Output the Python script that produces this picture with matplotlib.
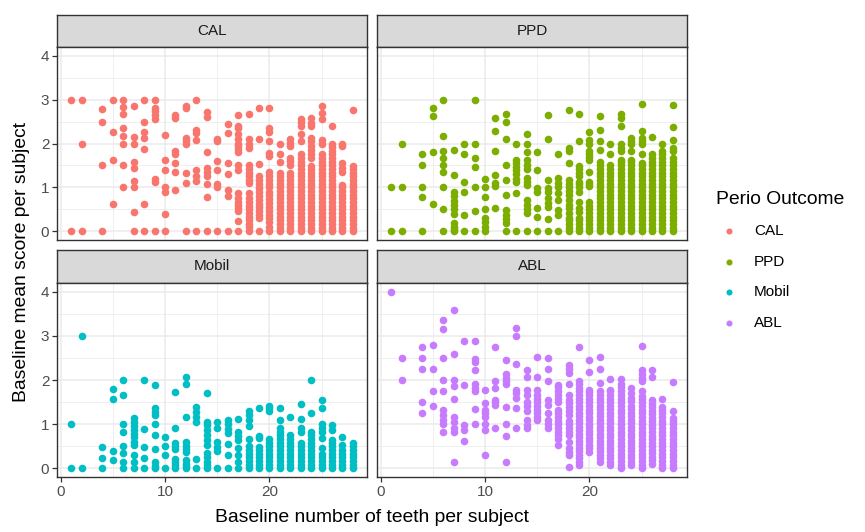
import matplotlib.pyplot as plt

W, H = 865, 532

# baseline number of teeth -> mean scores of the subjects with that many teeth
cal = {
    1: [0, 3.0],
    2: [0, 2.0, 3.0],
    4: [0, 1.5, 2.5, 2.78],
    5: [0.61, 1.62, 2.26, 3.0],
    6: [1.0, 1.5, 2.0, 2.18, 2.36, 2.68, 2.84, 3.0],
    7: [0, 0.43, 1.0, 1.15, 1.44, 1.58, 2.0, 2.15, 2.85],
    8: [0, 0.61, 1.88, 2.13, 2.26, 2.5, 3.0],
    9: [0, 1.12, 1.2, 2.55, 2.65, 2.75, 2.82, 3.0],
    10: [0, 0.39, 0.9, 1.0, 1.4, 1.62, 2.19],
    11: [0.93, 1.36, 1.56, 1.75, 1.82, 2.57, 2.65],
    12: [0, 1.1, 1.33, 2.0, 2.05, 2.12, 2.8, 2.86],
    13: [0, 1.15, 1.26, 1.39, 2.07, 2.25, 2.3, 3.0],
    14: [0, 0.79, 1.07, 1.25, 1.36, 1.44, 1.8, 2.6, 2.72],
    15: [0, 1.0, 1.07, 1.4, 1.6, 2.05, 2.1],
    16: [0, 0.8, 0.95, 1.3, 1.55, 2.25, 2.45],
    17: [0, 0.24, 0.45, 0.52, 0.6, 0.67, 0.75, 0.88, 1.4, 1.5, 1.8, 1.88,
         1.95, 2.0, 2.1, 2.22, 2.36, 2.41, 2.65],
    18: [0, 0.1, 0.17, 0.25, 0.33, 0.42, 0.5, 0.58, 0.67, 0.75, 0.87, 1.1,
         1.17, 1.25, 1.33, 1.42, 1.5, 1.9, 2.0, 2.1, 2.67],
    19: [0, 0.3, 0.38, 0.46, 0.55, 0.63, 0.72, 0.8, 0.9, 0.98, 1.07, 1.16,
         1.25, 1.53, 2.1, 2.8],
    20: [0, 0.1, 0.2, 0.3, 0.37, 0.46, 0.55, 0.64, 0.73, 0.82, 0.9, 1.0,
         1.08, 1.17, 1.25, 1.36, 1.71, 1.79, 2.05, 2.27, 2.36, 2.8],
    21: [0, 0.08, 0.17, 0.25, 0.33, 0.42, 0.5, 0.58, 0.67, 0.75, 0.83, 0.92,
         1.0, 1.08, 1.17, 1.25, 1.33, 1.57, 1.77, 2.0],
    22: [0, 0.08, 0.17, 0.25, 0.33, 0.42, 0.5, 0.58, 0.67, 0.75, 0.83, 0.92,
         1.0, 1.08, 1.17, 1.25, 1.33, 1.5, 1.6, 1.68, 1.95, 2.02, 2.1],
    23: [0, 0.08, 0.17, 0.25, 0.33, 0.42, 0.5, 0.58, 0.67, 0.75, 0.83, 0.92,
         1.0, 1.08, 1.17, 1.25, 1.33, 1.42, 1.5, 1.58, 1.67, 1.75, 2.05,
         2.22, 2.4, 2.48, 2.55],
    24: [0, 0.08, 0.17, 0.25, 0.33, 0.42, 0.5, 0.58, 0.67, 0.75, 0.83, 0.92,
         1.0, 1.08, 1.17, 1.25, 1.33, 1.42, 1.48, 1.67, 1.75, 1.85, 1.95,
         2.05, 2.13, 2.4, 2.46, 2.59],
    25: [0, 0.08, 0.17, 0.25, 0.33, 0.42, 0.5, 0.58, 0.67, 0.75, 0.83, 0.92,
         1.0, 1.08, 1.17, 1.25, 1.33, 1.42, 1.5, 1.58, 1.67, 1.75, 2.0,
         2.07, 2.55, 2.7, 2.85],
    26: [0, 0.08, 0.17, 0.25, 0.33, 0.42, 0.5, 0.58, 0.67, 0.75, 0.83, 0.92,
         1.0, 1.08, 1.17, 1.25, 1.33, 1.42, 1.5, 1.58, 1.67, 1.75, 1.83,
         1.92, 2.0, 2.4],
    27: [0, 0.08, 0.17, 0.25, 0.33, 0.42, 0.5, 0.58, 0.67, 0.75, 0.83, 0.92,
         1.0, 1.05, 1.36, 1.45, 1.55, 1.94, 2.0],
    28: [0, 0.08, 0.17, 0.25, 0.33, 0.42, 0.5, 0.58, 0.67, 0.75, 0.83, 0.92,
         1.0, 1.08, 1.17, 1.25, 1.33, 1.42, 1.48, 2.77],
}

ppd = {
    1: [0, 1.0],
    2: [0, 1.0, 2.0],
    4: [0, 0.77, 1.0, 1.5, 1.77],
    5: [0.61, 1.8, 2.63, 2.82],
    6: [0, 0.5, 1.0, 1.34, 1.5, 1.67, 1.82, 2.17, 3.0],
    7: [0, 0.05, 0.1, 0.18, 0.4, 0.5, 0.6, 0.7, 0.8, 0.9, 1.29, 1.86],
    8: [0, 0.37, 0.89, 1.13, 1.76, 2.0],
    9: [0, 0.47, 1.0, 1.46, 1.67, 2.0, 3.0],
    10: [0, 0.1, 0.2, 0.31, 0.5, 0.79, 1.0, 1.19],
    11: [0.54, 1.02, 1.1, 1.29, 1.82, 2.28, 2.57],
    12: [0, 0.18, 0.29, 0.38, 0.48, 0.83, 1.16, 1.5, 2.1, 2.5, 2.68],
    13: [0, 0.87, 1.13, 1.2, 1.3, 1.4, 1.47, 1.55, 1.63, 2.0],
    14: [0, 0.41, 0.5, 0.6, 0.71, 1.06, 1.13, 1.21, 1.43, 1.5, 1.63, 1.8,
         2.0, 2.22],
    15: [0, 0.33, 0.52, 0.9, 0.98, 1.4, 1.8],
    16: [0, 0.29, 0.56, 0.64, 0.75, 0.9, 0.98, 1.17, 2.1, 2.65],
    17: [0, 0.37, 0.48, 0.71, 0.87, 1.0, 1.1, 1.21, 1.76],
    18: [0, 0.08, 0.17, 0.25, 0.3, 0.41, 0.52, 0.6, 0.71, 0.83, 0.92, 1.0,
         1.08, 1.17, 1.56, 1.82, 1.9, 2.77],
    19: [0, 0.08, 0.17, 0.25, 0.3, 0.44, 0.52, 0.67, 0.9, 1.0, 1.08, 1.13,
         1.25, 1.33, 1.42, 1.48, 2.05, 2.67],
    20: [0, 0.08, 0.17, 0.25, 0.33, 0.42, 0.5, 0.58, 0.67, 1.02, 1.08, 1.13,
         1.35, 1.63, 1.7, 1.75, 1.82, 1.98, 2.09, 2.26],
    21: [0, 0.08, 0.17, 0.25, 0.33, 0.42, 0.5, 0.58, 0.67, 0.75, 0.83, 0.92,
         1.0, 1.08, 1.17, 1.25, 1.33, 1.42, 1.5, 1.58, 1.86, 2.05, 2.3, 2.63],
    22: [0, 0.08, 0.17, 0.25, 0.33, 0.42, 0.5, 0.58, 0.67, 0.75, 0.83, 0.92,
         1.0, 1.08, 1.17, 1.25, 1.33, 1.42, 1.5, 1.75, 2.0],
    23: [0, 0.08, 0.17, 0.25, 0.33, 0.42, 0.5, 0.58, 0.67, 0.75, 0.83, 0.92,
         1.0, 1.08, 1.17, 1.25, 1.33, 1.42, 1.5, 1.58, 1.63, 1.82, 1.9, 1.98,
         2.41, 2.59, 2.67],
    24: [0, 0.08, 0.17, 0.25, 0.33, 0.42, 0.5, 0.58, 0.67, 0.75, 0.83, 0.92,
         1.0, 1.08, 1.17, 1.25, 1.33, 1.42, 1.5, 1.58, 1.63, 1.82, 1.98,
         2.05, 2.13],
    25: [0, 0.08, 0.17, 0.25, 0.33, 0.42, 0.5, 0.58, 0.67, 0.75, 0.83, 0.92,
         1.0, 1.08, 1.17, 1.25, 1.33, 1.42, 1.5, 1.55, 1.75, 1.98, 2.05,
         2.13, 2.28, 2.9],
    26: [0, 0.08, 0.17, 0.25, 0.33, 0.42, 0.5, 0.58, 0.67, 0.75, 0.83, 0.92,
         1.0, 1.08, 1.17, 1.25, 1.33, 1.42, 1.5, 1.58, 1.67, 1.75, 2.15],
    27: [0, 0.08, 0.17, 0.25, 0.33, 0.42, 0.5, 0.58, 0.67, 0.75, 0.83, 0.92,
         1.0, 1.08, 1.17, 1.25, 1.33, 1.42, 1.5, 1.58, 1.67, 1.75, 1.83, 2.0],
    28: [0, 0.08, 0.17, 0.25, 0.33, 0.42, 0.5, 0.58, 0.67, 0.75, 0.83, 0.92,
         1.0, 1.08, 1.17, 1.25, 1.33, 1.42, 1.5, 1.58, 1.67, 1.82, 1.9, 2.07,
         2.38, 2.87],
}

mobil = {
    1: [0, 1.0],
    2: [0, 3.0],
    4: [0, 0.24, 0.48],
    5: [0.18, 0.4, 1.58, 1.79],
    6: [0, 0.15, 0.35, 0.5, 0.81, 1.0, 1.66, 2.0],
    7: [0, 0.14, 0.29, 0.52, 0.6, 0.7, 0.78, 0.87, 0.96, 1.05, 1.13],
    8: [0, 0.24, 0.48, 0.88, 2.0],
    9: [0, 0.05, 0.14, 0.43, 0.76, 1.0, 1.2, 1.27, 1.36, 1.88],
    10: [0, 0.3, 0.5, 0.7],
    11: [0, 0.07, 0.14, 0.21, 0.43, 0.5, 0.57, 0.91, 1.73],
    12: [0, 0.05, 0.1, 0.18, 0.37, 0.43, 0.5, 0.59, 1.15, 1.9, 2.06],
    13: [0, 0.2, 1.05, 1.15, 1.28, 1.38],
    14: [0, 0.07, 0.15, 0.25, 0.35, 0.52, 0.65, 0.76, 0.87, 0.97, 1.05, 1.7],
    15: [0, 0.38, 0.49, 0.59, 0.9, 1.05],
    16: [0, 0.3, 0.54, 0.79, 0.89, 1.01, 1.1],
    17: [0, 0.15, 0.3, 0.45, 0.64, 0.73, 0.83, 1.12],
    18: [0, 0.08, 0.17, 0.25, 0.33, 0.42, 0.5, 0.66, 0.95, 1.1, 1.2, 1.3],
    19: [0, 0.08, 0.17, 0.25, 0.33, 0.42, 0.49, 0.68, 0.72, 1.36],
    20: [0, 0.08, 0.17, 0.25, 0.33, 0.42, 0.5, 0.58, 0.67, 1.29, 1.36, 1.42],
    21: [0, 0.08, 0.17, 0.25, 0.33, 0.42, 0.5, 0.58, 0.67, 0.75, 0.83, 0.9,
         1.1, 1.36],
    22: [0, 0.08, 0.17, 0.25, 0.33, 0.42, 0.5, 0.58, 0.67, 0.75, 1.17],
    23: [0, 0.08, 0.17, 0.25, 0.33, 0.42, 0.5, 0.58, 0.83, 0.9, 1.12, 1.46],
    24: [0, 0.08, 0.17, 0.25, 0.33, 0.42, 0.5, 0.58, 0.67, 0.75, 0.83, 1.25,
         2.0],
    25: [0, 0.08, 0.17, 0.25, 0.33, 0.45, 0.68, 0.83, 0.92, 1.0, 1.36, 1.55],
    26: [0, 0.08, 0.17, 0.25, 0.33, 0.42, 0.5, 0.58, 0.64, 0.87, 0.97],
    27: [0, 0.08, 0.17, 0.25, 0.33, 0.42, 0.53, 0.7],
    28: [0, 0.08, 0.17, 0.25, 0.33, 0.42, 0.5, 0.58],
}

abl = {
    1: [4.0],
    2: [2.0, 2.49],
    4: [1.25, 1.49, 2.25, 2.49, 2.74],
    5: [1.4, 1.74, 2.25, 2.79],
    6: [0.83, 1.0, 1.1, 1.2, 1.33, 1.74, 2.0, 2.49, 3.15, 3.35],
    7: [0.13, 0.83, 0.9, 1.04, 1.17, 1.58, 1.86, 2.0, 2.58, 3.58],
    8: [0.62, 0.87, 0.98, 1.88, 2.88],
    9: [1.0, 1.34, 1.74, 1.82, 1.9, 2.22, 2.4, 2.47, 2.88],
    10: [0.31, 0.87, 1.0, 1.17, 1.25, 1.33, 1.48, 1.78],
    11: [0.91, 1.44, 1.5, 1.55, 1.82, 1.97, 2.74],
    12: [0.14, 0.72, 1.0, 1.38, 1.9, 1.97, 2.05, 2.14, 2.46],
    13: [0.91, 1.36, 1.6, 1.7, 1.78, 2.37, 3.0, 3.19],
    14: [0.91, 0.98, 1.1, 1.29, 1.4, 1.5, 1.65, 1.78, 2.06, 2.22],
    15: [1.1, 1.17, 1.25, 1.33, 1.42, 1.5, 1.58, 1.67, 1.78, 2.06, 2.52],
    16: [0.91, 1.0, 1.1, 1.25, 1.44, 1.55, 1.97, 2.25, 2.49],
    17: [0.53, 0.67, 0.75, 0.83, 0.92, 1.0, 1.08, 1.17, 1.25, 1.32, 1.5,
         1.58, 1.67, 1.75, 1.83, 1.89],
    18: [0.02, 0.3, 0.37, 0.45, 0.6, 0.75, 0.83, 0.92, 1.0, 1.06, 1.21, 1.3,
         1.38, 1.47, 1.55, 1.67, 1.9, 2.16, 2.25, 2.35],
    19: [0.07, 0.14, 0.22, 0.3, 0.38, 0.46, 0.54, 0.62, 0.7, 0.78, 0.86,
         0.94, 1.02, 1.1, 1.18, 1.26, 1.34, 1.42, 1.5, 1.58, 1.66, 1.74,
         1.82, 1.9, 1.97, 2.74],
    20: [0.37, 0.45, 0.53, 0.61, 0.69, 0.77, 0.85, 0.93, 1.01, 1.09, 1.17,
         1.25, 1.33, 1.41, 1.49, 1.57, 1.65, 1.72, 1.78, 2.18, 2.45],
    21: [0.14, 0.22, 0.3, 0.38, 0.46, 0.54, 0.62, 0.7, 0.78, 0.86, 0.94,
         1.02, 1.1, 1.18, 1.26, 1.34, 1.42, 1.5, 1.58, 1.66, 1.74, 1.94,
         2.26, 2.52],
    22: [0.07, 0.14, 0.22, 0.3, 0.38, 0.46, 0.54, 0.62, 0.7, 0.78, 0.86,
         0.94, 1.02, 1.1, 1.18, 1.26, 1.34, 1.42, 1.5, 1.58, 1.66, 1.74,
         1.78, 2.03],
    23: [0, 0.08, 0.17, 0.25, 0.33, 0.42, 0.5, 0.58, 0.67, 0.75, 0.83, 0.92,
         1.0, 1.08, 1.17, 1.25, 1.33, 1.42, 1.5, 1.58, 1.67, 1.75, 1.83,
         1.9, 2.03],
    24: [0.07, 0.14, 0.22, 0.3, 0.38, 0.46, 0.54, 0.62, 0.7, 0.78, 0.86,
         0.94, 1.02, 1.1, 1.18, 1.26, 1.34, 1.4, 1.52, 1.6, 1.7, 1.82],
    25: [0, 0.08, 0.17, 0.25, 0.33, 0.42, 0.5, 0.58, 0.67, 0.75, 0.83, 0.92,
         1.0, 1.08, 1.17, 1.25, 1.33, 1.42, 1.5, 1.58, 1.63, 1.74, 1.97,
         2.05, 2.14, 2.22, 2.76],
    26: [0.1, 0.18, 0.26, 0.34, 0.42, 0.5, 0.58, 0.66, 0.74, 0.82, 0.9,
         0.98, 1.06, 1.14, 1.22, 1.3, 1.38, 1.46, 1.55, 2.06, 2.22],
    27: [0, 0.08, 0.17, 0.25, 0.33, 0.42, 0.5, 0.58, 0.67, 0.75, 0.83, 0.92,
         1.0, 1.08, 1.17, 1.25, 1.33, 1.38, 1.58],
    28: [0, 0.08, 0.17, 0.25, 0.33, 0.42, 0.5, 0.58, 0.67, 0.75, 0.83, 0.92,
         1.0, 1.08, 1.14, 1.3, 1.95],
}

outcomes = ["CAL", "PPD", "Mobil", "ABL"]
colors = ["#F8766D", "#7CAE00", "#00BFC4", "#C77CFF"]
panel_data = [cal, ppd, mobil, abl]

plt.rcParams['font.family'] = ['Liberation Sans', 'DejaVu Sans']

fig = plt.figure(figsize=(W / 100, H / 100), dpi=100)


def box(x0, x1, y0, y1):
    # pixel box (top-left origin) -> figure fraction rect
    return [x0 / W, 1 - y1 / H, (x1 - x0) / W, (y1 - y0) / H]


# (left, right, strip top, plot top, plot bottom) in pixels
layout = [(57, 367, 15, 47, 240), (377, 687, 15, 47, 240),
          (57, 367, 250, 283, 477), (377, 687, 250, 283, 477)]

handles = []
for i, (name, col, data) in enumerate(zip(outcomes, colors, panel_data)):
    x0, x1, s0, p0, p1 = layout[i]

    strip = fig.add_axes(box(x0, x1, s0, p0))
    strip.set_facecolor("#D9D9D9")
    strip.set_xticks([])
    strip.set_yticks([])
    for sp in strip.spines.values():
        sp.set_color("#333333")
        sp.set_linewidth(1.0)
    strip.text(0.5, 0.5, name, ha="center", va="center", fontsize=11,
               color="#1A1A1A", transform=strip.transAxes)

    ax = fig.add_axes(box(x0, x1, p0, p1))
    xs = [n for n, vals in data.items() for v in vals]
    ys = [v for n, vals in data.items() for v in vals]
    sc = ax.scatter(xs, ys, s=30, color=col, linewidths=0, label=name,
                    zorder=3)
    handles.append(sc)

    ax.set_xlim(-0.35, 29.35)
    ax.set_ylim(-0.2, 4.2)
    ax.set_xticks([0, 10, 20])
    ax.set_xticks([5, 15, 25], minor=True)
    ax.set_yticks([0, 1, 2, 3, 4])
    ax.set_yticks([0.5, 1.5, 2.5, 3.5], minor=True)
    ax.grid(True, which="major", color="#EBEBEB", linewidth=1.1)
    ax.grid(True, which="minor", color="#EBEBEB", linewidth=0.55)
    ax.set_axisbelow(True)
    for sp in ax.spines.values():
        sp.set_color("#333333")
        sp.set_linewidth(1.0)
    ax.tick_params(which="minor", length=0)
    ax.tick_params(which="major", length=3.5, width=0.9, color="#333333",
                   labelcolor="#4D4D4D", labelsize=11, pad=2)
    if i < 2:
        ax.tick_params(axis="x", which="major", length=0, labelbottom=False)
    if i % 2 == 1:
        ax.tick_params(axis="y", which="major", length=0, labelleft=False)

fig.text(372 / W, 1 - 517 / H, "Baseline number of teeth per subject",
         ha="center", va="center", fontsize=13.9)
fig.text(22 / W, 1 - 262 / H, "Baseline mean score per subject",
         ha="center", va="center", rotation=90, fontsize=13.9)

fig.legend(handles=handles, labels=outcomes, loc="upper left",
           bbox_to_anchor=(708 / W, 1 - 183 / H), frameon=False,
           title="Perio Outcome", title_fontsize=13.9, fontsize=11,
           alignment="left", borderpad=0, handlelength=1.8,
           handletextpad=0.7, labelspacing=1.08, markerscale=0.8)

fig.savefig("out.png", dpi=100)
